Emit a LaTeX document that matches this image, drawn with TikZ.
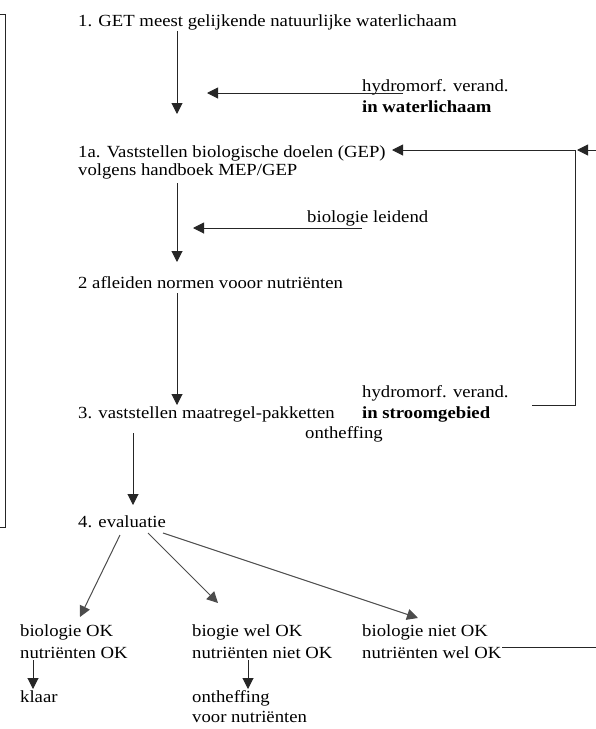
\documentclass[tikz,border=0pt]{standalone}
\usepackage{fontspec}
\setmainfont[FakeStretch=1.1]{Liberation Serif}
\usetikzlibrary{arrows.meta}
\begin{document}
\begin{tikzpicture}[x=1pt,y=-1pt,
  txt/.style={inner sep=0pt, anchor=base west, font=\fontsize{17}{19.5}\selectfont},
  bold/.style={txt, font=\fontsize{17}{19.5}\selectfont\bfseries},
  conn/.style={draw=black!85, line width=1pt},
  arr/.style={conn, -{Triangle[length=11pt,width=11pt]}},
  evalarr/.style={arr, draw=black!70}]
\useasboundingbox (0,0) rectangle (596,729);

% main steps
\node[txt] (t1)  at (78,26)  {1. GET meest gelijkende natuurlijke waterlichaam};
\node[txt] (t1a) at (78,157) {1a. Vaststellen biologische doelen (GEP)};
\node[txt] (t1b) at (78,175) {volgens handboek MEP/GEP};
\node[txt] (t2)  at (78,288) {2 afleiden normen vooor nutriënten};
\node[txt] (t3)  at (78,418) {3. vaststellen maatregel-pakketten};
\node[txt] (t4)  at (78,527) {4. evaluatie};

% side inputs
\node[txt]  (h1a) at (362,91)  {hydromorf. verand.};
\node[bold] (h1b) at (362,112) {in waterlichaam};
\node[txt]  (bl)  at (307,222) {biologie leidend};
\node[txt]  (h2a) at (362,397) {hydromorf. verand.};
\node[bold] (h2b) at (362,418) {in stroomgebied};
\node[txt]  (ont) at (305,438) {ontheffing};

% outcomes
\node[txt] (e1a) at (20,636)  {biologie OK};
\node[txt] (e1b) at (20,658)  {nutriënten OK};
\node[txt] (kl)  at (20,702)  {klaar};
\node[txt] (e2a) at (192,636) {biogie wel OK};
\node[txt] (e2b) at (192,658) {nutriënten niet OK};
\node[txt] (o2a) at (192,702) {ontheffing};
\node[txt] (o2b) at (192,722) {voor nutriënten};
\node[txt] (e3a) at (362,636) {biologie niet OK};
\node[txt] (e3b) at (362,658) {nutriënten wel OK};

% connector end points
\coordinate (a1s) at (177,31);   \coordinate (a1e) at (177,114);
\coordinate (hws) at (403,93);   \coordinate (hwe) at (207,93);
\coordinate (a2s) at (177,183);  \coordinate (a2e) at (177,262);
\coordinate (bls) at (362,228);  \coordinate (ble) at (193,228);
\coordinate (a3s) at (177,293);  \coordinate (a3e) at (177,405);
\coordinate (lps) at (532,405);  \coordinate (lpc) at (575,405);
\coordinate (lpt) at (575,150);  \coordinate (lpe) at (392,150);
\coordinate (rin) at (596,150);  \coordinate (rie) at (577,150);
\coordinate (a4s) at (133,433);  \coordinate (a4e) at (133,505);
\coordinate (ev1) at (120,535);  \coordinate (ev1e) at (80,617);
\coordinate (ev2) at (148,533);  \coordinate (ev2e) at (218,603);
\coordinate (ev3) at (163,533);  \coordinate (ev3e) at (418,618);
\coordinate (k1s) at (33,660);   \coordinate (k1e) at (33,689);
\coordinate (k2s) at (248,660);  \coordinate (k2e) at (248,689);
\coordinate (wos) at (502,647);  \coordinate (woe) at (596,647);
\coordinate (lb1) at (0,14);     \coordinate (lb2) at (5,14);
\coordinate (lb3) at (5,527);    \coordinate (lb4) at (0,527);

% main flow
\draw[arr] (a1s) -- (a1e);
\draw[arr] (a2s) -- (a2e);
\draw[arr] (a3s) -- (a3e);
\draw[arr] (a4s) -- (a4e);

% side inputs
\draw[arr] (hws) -- (hwe);
\draw[arr] (bls) -- (ble);
\draw[arr] (lps) -- (lpc) -- (lpt) -- (lpe);
\draw[arr] (rin) -- (rie);

% evaluation branches
\draw[evalarr] (ev1) -- (ev1e);
\draw[evalarr] (ev2) -- (ev2e);
\draw[evalarr] (ev3) -- (ev3e);
\draw[arr] (k1s) -- (k1e);
\draw[arr] (k2s) -- (k2e);
\draw[conn] (wos) -- (woe);

% feedback bracket on the left
\draw[conn] (lb1) -- (lb2) -- (lb3) -- (lb4);
\end{tikzpicture}
\end{document}
